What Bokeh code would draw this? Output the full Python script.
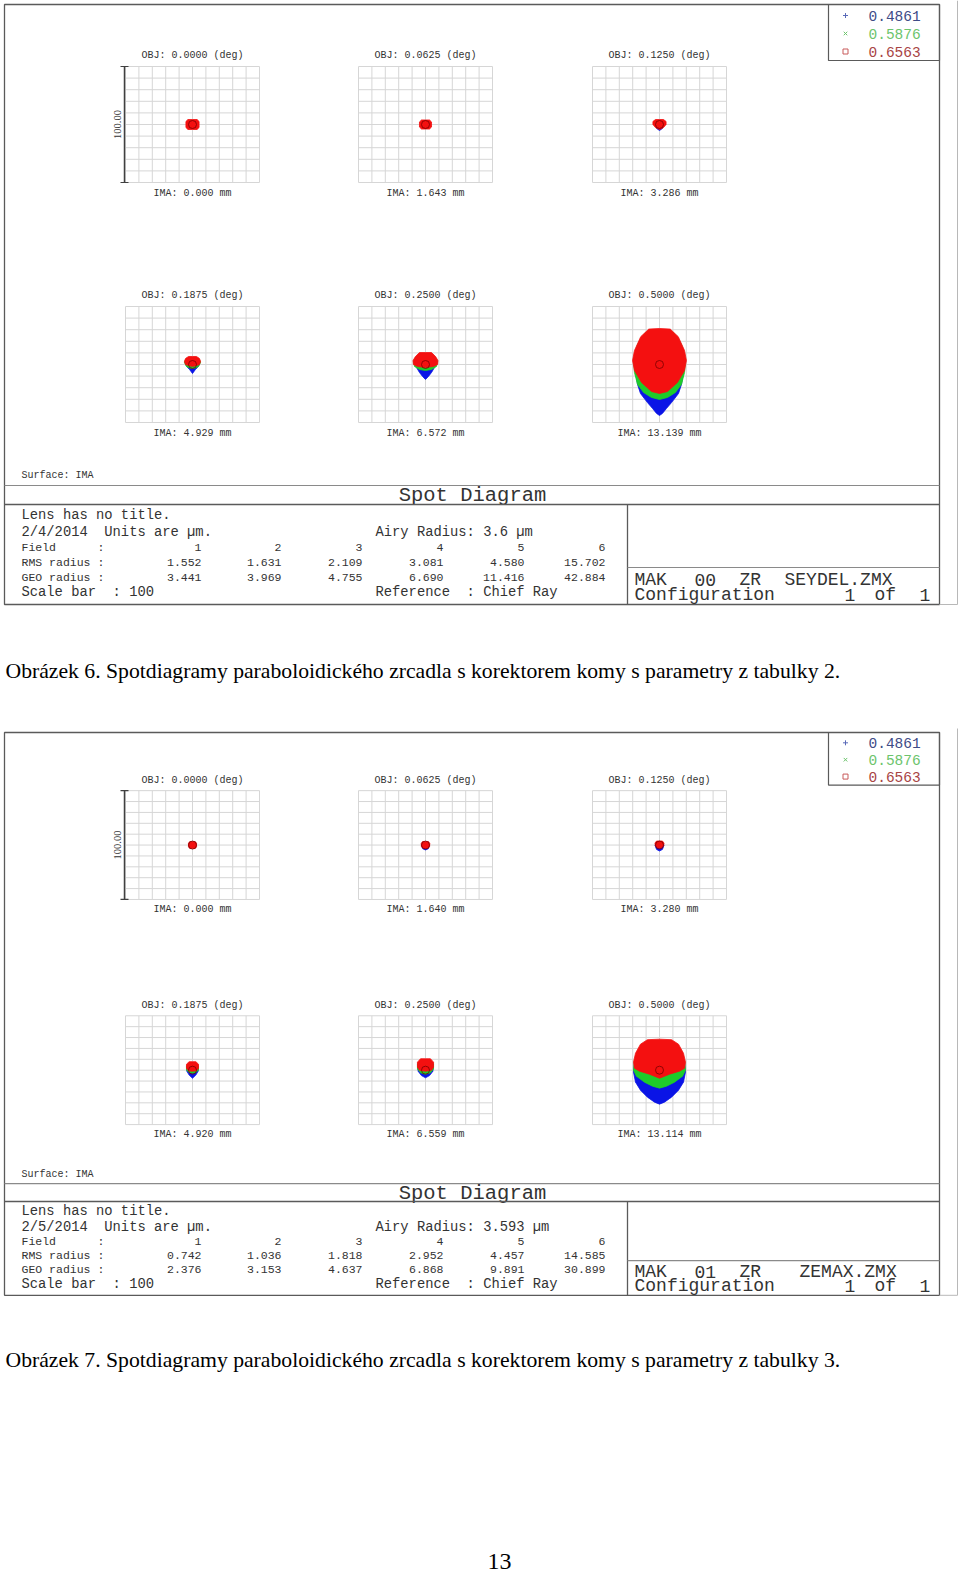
import math
from bokeh.plotting import figure
from bokeh.models import Range1d
from bokeh.core.properties import value
from bokeh.embed import file_html
from bokeh.resources import INLINE

# ---------------- data ----------------
obj_fields = ["0.0000", "0.0625", "0.1250", "0.1875", "0.2500", "0.5000"]
wavelengths = ["0.4861", "0.5876", "0.6563"]
field_numbers = ["1", "2", "3", "4", "5", "6"]

ima_fig6 = ["0.000", "1.643", "3.286", "4.929", "6.572", "13.139"]
rms_fig6 = ["1.552", "1.631", "2.109", "3.081", "4.580", "15.702"]
geo_fig6 = ["3.441", "3.969", "4.755", "6.690", "11.416", "42.884"]
date_fig6 = "2/4/2014"
airy_fig6 = "3.6"
file_fig6 = "MAK 00 ZR SEYDEL.ZMX"

ima_fig7 = ["0.000", "1.640", "3.280", "4.920", "6.559", "13.114"]
rms_fig7 = ["0.742", "1.036", "1.818", "2.952", "4.457", "14.585"]
geo_fig7 = ["2.376", "3.153", "4.637", "6.868", "9.891", "30.899"]
date_fig7 = "2/5/2014"
airy_fig7 = "3.593"
file_fig7 = "MAK 01 ZR  ZEMAX.ZMX"

config_text = "Configuration 1 of 1"
scale_bar_um = 100
caption6 = "Obrázek 6. Spotdiagramy paraboloidického zrcadla s korektorem komy s parametry z tabulky 2."
caption7 = "Obrázek 7. Spotdiagramy paraboloidického zrcadla s korektorem komy s parametry z tabulky 3."
page_number = "13"

# spot outlines (right half, micrometres, y up, relative to chief ray), per field
fig6_blue = [
    [],
    [],
    [(0, 3.4), (3.7, 1.7), (2.2, -3.4), (0, -5.2)],
    [(0, 5.2), (5.2, 3.4), (5.2, 0), (3.7, -2.6), (2.2, -4.3), (0, -7.8)],
    [(0, 8.6), (6.7, 5.2), (8.2, 1.7), (6.7, -2.6), (4.5, -6.9), (2.2, -10.3), (0, -12.9)],
    [(0, 29.3), (10.4, 26.7), (16.4, 15.5), (18.7, 3.4), (17.9, -6.9), (16.4, -17.2),
     (14.2, -25), (9, -32.8), (5.2, -37.9), (2.2, -42.2), (0, -44)],
]
fig6_green = [
    [],
    [],
    [],
    [(0, 6), (5.2, 4.3), (6, 1.7), (4.5, -1.7), (2.2, -3), (0, -3.4)],
    [(0, 9.5), (7.5, 6), (9, 2.6), (8.2, -1.7), (4.5, -4.3), (0, -5.2)],
    [(0, 30), (10.4, 27.6), (16.4, 17.2), (19.4, 4.3), (18.7, -6.9), (16.4, -17.2),
     (11.9, -24.1), (6, -28.4), (0, -30.2)],
]
fig6_red = [
    [(0, 4.3), (3.4, 4.3), (4.9, 2.6), (4.9, -2.6), (3.4, -4.3), (0, -4.3)],
    [(0, 3.9), (3.0, 3.9), (4.5, 2.2), (4.5, -2.2), (3.0, -3.9), (0, -3.9)],
    [(0, 4.3), (3.0, 4.3), (4.9, 2.6), (4.9, 0), (3.0, -2.6), (0, -4.3)],
    [(0, 6.9), (3, 6.9), (5.2, 5.2), (6, 2.6), (5.2, 0), (3, -0.9), (0, -1.7)],
    [(0, 10.3), (4.5, 10.3), (7.5, 6.9), (9.3, 3.4), (9, 0), (6, -1.7), (0, -2.6)],
    [(0, 31), (8, 30.5), (14, 24), (18.7, 12), (20.1, 3.4), (18.7, -5.2),
     (13.4, -15.5), (6, -23.3), (0, -25)],
]

fig7_blue = [
    [],
    [(0, 2), (3, 0), (2, -3.5), (0, -4.5)],
    [(0, 2), (3.4, 0), (2.2, -4), (0, -5.5)],
    [(0, 6), (4.5, 3), (4.2, -1), (2.5, -4.5), (0, -7.4)],
    [(0, 8.5), (6, 5), (5.5, -1), (3, -5), (0, -7)],
    [(0, 26.7), (13.4, 21.1), (18.7, 7.4), (19.4, -1.8), (17.9, -11), (14.2, -18.4),
     (9, -24.8), (3.7, -29.4), (0, -31.2)],
]
fig7_green = [
    [],
    [],
    [],
    [(0, 7), (4.5, 4), (4.5, 0), (2.2, -2.3), (0, -2.8)],
    [(0, 9.5), (6, 6), (6, 1), (3.5, -2.5), (0, -3.7)],
    [(0, 27.6), (13.4, 22), (18.7, 9.2), (19.4, 0), (17.2, -5.5), (11.2, -11),
     (5.2, -14.7), (0, -16.5)],
]
fig7_red = [
    [(0, 3.2), (2, 3.2), (3, 1.6), (3, -1.6), (2, -3.2), (0, -3.2)],
    [(0, 3.2), (2.2, 3.2), (3.2, 1.5), (3, -1.5), (1.8, -3), (0, -3.2)],
    [(0, 3.7), (2.2, 3.7), (3.4, 1.8), (3, -1), (1.5, -2.5), (0, -3)],
    [(0, 7.8), (2.5, 7.8), (4.5, 5.5), (4.5, 1.8), (3, -0.5), (0, -1)],
    [(0, 10.5), (3.7, 10.5), (6, 7.4), (6, 2.8), (4.5, 0), (0, -1)],
    [(0, 28.5), (9, 28), (14.2, 23.9), (17.9, 15.6), (19.4, 7.4), (18.7, 1.8),
     (14.9, -0.9), (7.5, -3.7), (0, -7.4)],
]

# ---------------- styles ----------------
MONO = "Liberation Mono"
SERIF = "Liberation Serif"
ZTXT = "#333333"
FRAME = "#5a5a5a"
GRID = "#d6d6d6"
SPOT_COLORS = {"blue": "#0a14e6", "green": "#1ecc2a", "red": "#f41010"}
LEG_TXT = ["#3e4c86", "#6cc46c", "#a84444"]
LEG_MARK = [("cross", "#5a6ab8"), ("x", "#6cc46c"), ("square", "#c85a5a")]

p = figure(width=960, height=1576, x_range=Range1d(0, 960), y_range=Range1d(1576, 0),
           output_backend="svg", toolbar_location=None, min_border=0,
           x_axis_location=None, y_axis_location=None)
p.grid.visible = False
p.outline_line_color = None
p.background_fill_color = "white"
p.border_fill_color = "white"


def txt(x, y, s, size, font=MONO, color=ZTXT, align="left", baseline="middle", angle=0.0):
    p.text(x=[x], y=[y], text=[s], text_font=value(font), text_font_size=value(f"{size}px"),
           text_color=color, text_align=align, text_baseline=baseline, angle=angle)


def wide_txt(x0, y, s, size, cell):
    """Zemax wide font: each word starts on its own character cell."""
    k = 0
    for word in s.split(" "):
        if word:
            txt(x0 + k * cell, y, word, size, align="left")
        k += len(word) + 1


def seg(x0, y0, x1, y1, color=FRAME, w=1.0):
    p.segment(x0=[x0], y0=[y0], x1=[x1], y1=[y1], line_color=color, line_width=w)


def mirror(half):
    left = [(-x, y) for (x, y) in reversed(half) if x != 0]
    return half + left


def screenshot(T, sy, ima, rms, geo, date, airy, fname, blue, green, red):
    def Y(y):
        return T + (y - 4) * sy

    # frames
    p.quad(left=[4], right=[939], top=[Y(4)], bottom=[Y(604)], fill_color=None,
           line_color=FRAME, line_width=1.3)
    seg(957, Y(4) - 4, 957, Y(604), color="#b8b8b8")
    seg(939, Y(604), 957, Y(604), color="#b8b8b8")

    # legend
    p.quad(left=[828], right=[939], top=[Y(4)], bottom=[Y(60)], fill_color=None,
           line_color=FRAME, line_width=1.2)
    for k, yy in enumerate([15, 33, 51]):
        m, c = LEG_MARK[k]
        p.scatter(x=[845], y=[Y(yy)], marker=m, size=5, line_color=c, fill_color=None,
                  line_width=1)
        txt(868, Y(yy), wavelengths[k], 14.5, color=LEG_TXT[k])

    # spot panels
    lefts = [125, 358, 592]
    tops = [66, 306]
    gw, gh = 134, 116
    for i in range(6):
        r, c = divmod(i, 3)
        L, Tp = lefts[c], tops[r]
        xs0 = [L + k * gw / 10 for k in range(11)]
        p.segment(x0=xs0, y0=[Y(Tp)] * 11, x1=xs0, y1=[Y(Tp + gh)] * 11,
                  line_color=GRID, line_width=1)
        ys0 = [Y(Tp + k * gh / 10) for k in range(11)]
        p.segment(x0=[L] * 11, y0=ys0, x1=[L + gw] * 11, y1=ys0,
                  line_color=GRID, line_width=1)
        txt(L + gw / 2, Y(Tp - 11), f"OBJ: {obj_fields[i]} (deg)", 10, align="center")
        txt(L + gw / 2, Y(Tp + gh + 11), f"IMA: {ima[i]} mm", 10, align="center")

        cx, cy = L + gw / 2, Y(Tp + gh / 2)
        kx = gw / scale_bar_um
        ky = gh / scale_bar_um * sy
        for name, outlines in (("blue", blue), ("green", green), ("red", red)):
            half = outlines[i]
            if not half:
                continue
            pts = mirror(half)
            p.patch(x=[cx + px * kx for px, py in pts], y=[cy - py * ky for px, py in pts],
                    fill_color=SPOT_COLORS[name], line_color=SPOT_COLORS[name], line_width=0.8)
        p.scatter(x=[cx], y=[cy], marker="circle", size=8, fill_color=None,
                  line_color="#7a0000", line_width=0.8)

    # scale bar
    seg(124, Y(66), 124, Y(182), color="#404040", w=1.5)
    seg(120, Y(66), 128, Y(66), color="#404040", w=1.2)
    seg(120, Y(182), 128, Y(182), color="#404040", w=1.2)
    txt(117, Y(124), f"{scale_bar_um:.2f}", 10.5, font=SERIF, align="center", angle=math.pi / 2)

    # bottom text area
    txt(21, Y(475), "Surface: IMA", 10)
    seg(4, Y(485), 939, Y(485), color="#8a8a8a", w=1.2)
    txt(472, Y(495), "Spot Diagram", 20.5, align="center")
    seg(4, Y(504), 939, Y(504), color=FRAME, w=1.3)
    seg(627, Y(504), 627, Y(604), color=FRAME, w=1.3)
    seg(627, Y(567), 939, Y(567), color="#8a8a8a", w=1.2)

    txt(21, Y(515), "Lens has no title.", 13.8)
    txt(21, Y(532), f"{date}\u00a0\u00a0Units are µm.", 13.8)
    txt(375, Y(532), f"Airy Radius: {airy} µm", 13.8)
    txt(21, Y(547), "Field\u00a0\u00a0\u00a0\u00a0\u00a0\u00a0:", 11.5)
    txt(21, Y(562), "RMS radius :", 11.5)
    txt(21, Y(577), "GEO radius :", 11.5)
    txt(21, Y(592), f"Scale bar\u00a0\u00a0: {scale_bar_um}", 13.8)
    txt(375, Y(592), "Reference\u00a0\u00a0: Chief Ray", 13.8)
    col_r = [201, 281, 362, 443, 524, 605]
    for i in range(6):
        txt(col_r[i], Y(547), field_numbers[i], 11.5, align="right")
        txt(col_r[i], Y(562), rms[i], 11.5, align="right")
        txt(col_r[i], Y(577), geo[i], 11.5, align="right")

    wide_txt(634, Y(579.5), fname, 18, 15.0)
    wide_txt(634, Y(594), config_text, 18, 15.0)


screenshot(4, 1.0, ima_fig6, rms_fig6, geo_fig6, date_fig6, airy_fig6, file_fig6,
           fig6_blue, fig6_green, fig6_red)
screenshot(732, 0.938, ima_fig7, rms_fig7, geo_fig7, date_fig7, airy_fig7, file_fig7,
           fig7_blue, fig7_green, fig7_red)

txt(5, 670, caption6, 21.7, font=SERIF, color="#000000")
txt(5, 1359, caption7, 21.7, font=SERIF, color="#000000")
txt(499, 1561, page_number, 24, font=SERIF, color="#000000", align="center")

open("out.html", "w").write(file_html(p, INLINE))
